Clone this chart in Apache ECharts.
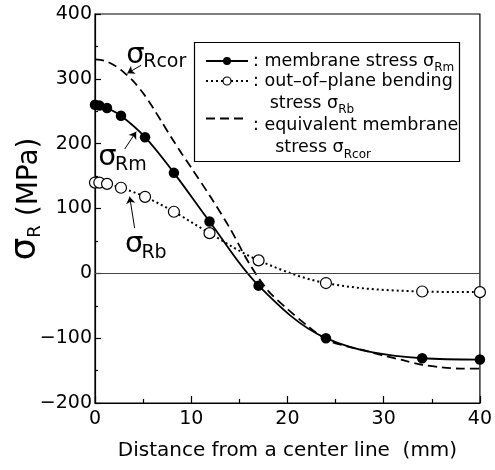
<!DOCTYPE html>
<html>
<head>
<meta charset="utf-8">
<script src="https://cdn.jsdelivr.net/npm/echarts@6/dist/echarts.min.js"></script>
<style>
html,body{margin:0;padding:0;background:#fff;}
#chart{width:495px;height:470px;}
</style>
</head>
<body>
<div id="chart"></div>
<script>
// ---- data ----
const xMeasured = [0, 0.45, 1.25, 2.7, 5.2, 8.2, 11.9, 17, 24, 34, 40];           // mm
const sigmaRm   = [260, 259, 255, 243, 210, 155, 80, -19, -100, -131, -133];     // membrane stress (MPa)
const sigmaRb   = [140, 140, 138, 132, 118, 95, 62, 20, -15, -28, -29];          // out-of-plane bending stress (MPa)
const xCor      = [0, 1, 2, 3, 4, 5, 6, 7, 8, 9, 10, 12, 14, 16, 18, 20, 22, 24, 26, 28, 30, 32, 34, 36, 38, 40];
const sigmaRcor = [330, 328, 321, 310, 296, 278, 256, 232, 208, 185, 163, 118, 70, 16, -27, -55, -80, -102, -112, -119, -127, -134, -141, -145, -147, -147];
const xTicks = [0, 10, 20, 30, 40];
const yTicks = [-200, -100, 0, 100, 200, 300, 400];
const seriesNames = ['membrane stress σRm', 'out-of-plane bending stress σRb', 'equivalent membrane stress σRcor'];
const xTitle = 'Distance from a center line  (mm)';
// annotation arrows: [from, to] in data units
const arrowRcor = [[4.8, 321], [3.36, 308.5]];
const arrowRm   = [[3.09, 191.8], [4.28, 218.5]];
const arrowRb   = [[4.12, 69.6], [3.6, 118.3]];

const FONT = 'DejaVu Sans';
const zip = (xs, ys) => xs.map((x, i) => [x, ys[i]]);
const minus = v => String(v).replace('-', '\u2212');

const chart = echarts.init(document.getElementById('chart'), null, {renderer: 'canvas'});

const legendBase = {
  orient: 'vertical', left: 205, padding: 0, itemWidth: 42, itemHeight: 10,
  selectedMode: false,
  textStyle: {
    fontFamily: FONT, fontSize: 17.5, color: '#000', lineHeight: 22,
    rich: {
      sub: {fontFamily: FONT, fontSize: 12, color: '#000', lineHeight: 22, verticalAlign: 'top', padding: [12, 0, 0, 0]},
      gap: {fontFamily: FONT, fontSize: 17.5, lineHeight: 36}
    }
  }
};

const arrowItem = a => [{coord: a[0]}, {coord: a[1]}];

const option = {
  animation: false,
  backgroundColor: '#fff',
  grid: {left: 92, right: 14, top: 14, bottom: 67, show: true, borderColor: '#000', borderWidth: 1.2, backgroundColor: 'transparent'},
  xAxis: {
    type: 'value', min: xTicks[0], max: xTicks[xTicks.length - 1], interval: xTicks[1] - xTicks[0],
    axisLine: {show: true, onZero: false, lineStyle: {color: '#000', width: 1.2}},
    axisTick: {show: true, inside: true, length: 7, lineStyle: {color: '#000', width: 1.2}},
    minorTick: {show: true, splitNumber: 2, length: 4, lineStyle: {color: '#000', width: 1.2}},
    splitLine: {show: false}, minorSplitLine: {show: false},
    axisLabel: {fontFamily: FONT, fontSize: 19, color: '#000', margin: 7, formatter: minus},
    name: xTitle, nameLocation: 'middle', nameGap: 38, nameMoveOverlap: false,
    nameTextStyle: {fontFamily: FONT, fontSize: 20, color: '#000'}
  },
  yAxis: {
    type: 'value', min: yTicks[0], max: yTicks[yTicks.length - 1], interval: yTicks[1] - yTicks[0],
    axisLine: {show: true, onZero: false, lineStyle: {color: '#000', width: 1.2}},
    axisTick: {show: true, inside: true, length: 6, lineStyle: {color: '#000', width: 1.2}},
    minorTick: {show: true, splitNumber: 2, length: 3, lineStyle: {color: '#000', width: 1.2}},
    splitLine: {show: false}, minorSplitLine: {show: false},
    axisLabel: {fontFamily: FONT, fontSize: 19, color: '#000', margin: 3, formatter: minus},
    name: '{s|σ}{r|R}{p| (MPa)}', nameLocation: 'middle', nameGap: 51, nameRotate: 90, nameMoveOverlap: false,
    nameTextStyle: {
      fontFamily: FONT, color: '#000', padding: [0, 0, 0, 19],
      rich: {
        s: {fontFamily: FONT, fontSize: 36, color: '#000', verticalAlign: 'bottom'},
        r: {fontFamily: FONT, fontSize: 18, color: '#000', verticalAlign: 'bottom'},
        p: {fontFamily: FONT, fontSize: 28, color: '#000', verticalAlign: 'bottom'}
      }
    }
  },
  legend: [
    Object.assign({}, legendBase, {top: 50, data: [{name: seriesNames[0]}],
      formatter: () => ': membrane stress σ{sub|Rm}'}),
    Object.assign({}, legendBase, {top: 48,
      data: [{name: seriesNames[1], itemStyle: {color: '#fff', borderColor: '#000', borderWidth: 1.2}}],
      formatter: () => ' \n: out\u2013of\u2013plane bending\n   stress σ{sub|Rb}'}),
    Object.assign({}, legendBase, {top: 78.5,
      data: [{name: seriesNames[2], itemStyle: {opacity: 0, color: 'rgba(0,0,0,0)', borderColor: 'rgba(0,0,0,0)'}}],
      formatter: () => '{gap| }\n: equivalent membrane\n    stress σ{sub|Rcor}'})
  ],
  graphic: [
    {type: 'rect', z: 0, shape: {x: 194.5, y: 42.5, width: 265, height: 119},
     style: {fill: '#fff', stroke: '#000', lineWidth: 1.2}},
    {type: 'text', z: 10, x: 126.3, y: 55, style: {text: 'σ', font: '29px "DejaVu Sans"', fill: '#000', verticalAlign: 'middle', textVerticalAlign: 'middle'}},
    {type: 'text', z: 10, x: 143.2, y: 61.7, style: {text: 'Rcor', font: '19px "DejaVu Sans"', fill: '#000', verticalAlign: 'middle', textVerticalAlign: 'middle'}},
    {type: 'text', z: 10, x: 98.3, y: 157, style: {text: 'σ', font: '29px "DejaVu Sans"', fill: '#000', verticalAlign: 'middle', textVerticalAlign: 'middle'}},
    {type: 'text', z: 10, x: 115.1, y: 165.4, style: {text: 'Rm', font: '19px "DejaVu Sans"', fill: '#000', verticalAlign: 'middle', textVerticalAlign: 'middle'}},
    {type: 'text', z: 10, x: 125, y: 244, style: {text: 'σ', font: '29px "DejaVu Sans"', fill: '#000', verticalAlign: 'middle', textVerticalAlign: 'middle'}},
    {type: 'text', z: 10, x: 141.4, y: 253.4, style: {text: 'Rb', font: '19px "DejaVu Sans"', fill: '#000', verticalAlign: 'middle', textVerticalAlign: 'middle'}}
  ],
  series: [
    {
      name: seriesNames[1], type: 'line', z: 3,
      data: zip(xMeasured, sigmaRb), smooth: 0.35,
      symbol: 'circle', symbolSize: 11, showAllSymbol: true,
      lineStyle: {color: '#000', width: 2, type: [2, 3]},
      itemStyle: {color: '#fff', borderColor: '#000', borderWidth: 1.2},
      emphasis: {disabled: true},
      markLine: {
        silent: true, symbol: 'none', animation: false, label: {show: false},
        lineStyle: {color: '#444', width: 1, type: 'solid'},
        emphasis: {disabled: true},
        data: [{yAxis: 0}]
      }
    },
    {
      name: seriesNames[2], type: 'line', z: 2,
      data: zip(xCor, sigmaRcor), smooth: 0.3,
      symbol: 'none',
      lineStyle: {color: '#000', width: 1.8, type: [9, 5]},
      itemStyle: {color: '#000'},
      emphasis: {disabled: true},
      markLine: {
        silent: true, symbol: ['none', 'arrow'], symbolSize: 7, animation: false, label: {show: false},
        lineStyle: {color: '#000', width: 1, type: 'solid'},
        emphasis: {disabled: true},
        data: [arrowItem(arrowRcor), arrowItem(arrowRm), arrowItem(arrowRb)]
      }
    },
    {
      name: seriesNames[0], type: 'line', z: 4,
      data: zip(xMeasured, sigmaRm), smooth: 0.35,
      symbol: 'circle', symbolSize: 10.5, showAllSymbol: true,
      lineStyle: {color: '#000', width: 1.8},
      itemStyle: {color: '#000'},
      emphasis: {disabled: true}
    }
  ]
};
chart.setOption(option);
</script>
</body>
</html>
